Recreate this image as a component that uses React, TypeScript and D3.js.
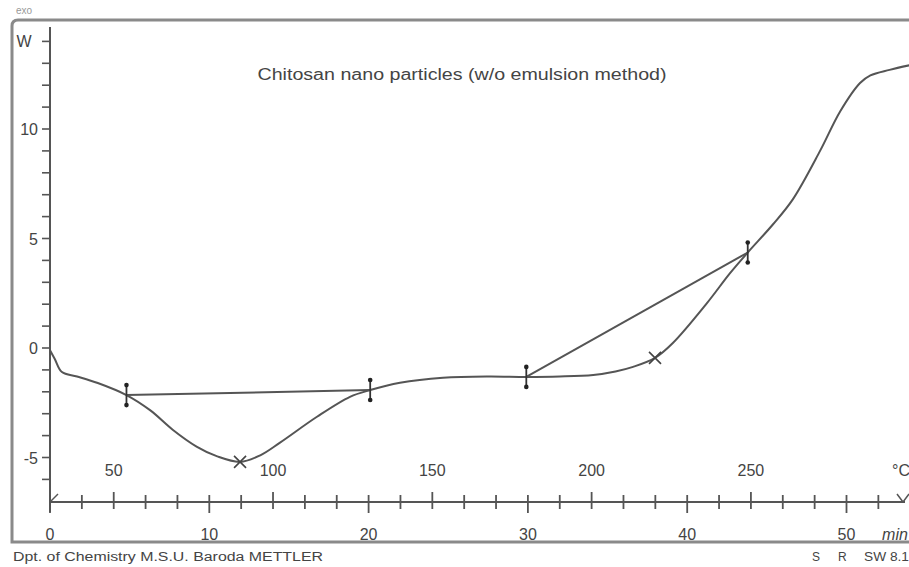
import React from "react";
import * as d3 from "d3";

// ---- data (time in min, heat flow in mW) ----
const timeMin = [0, 0.3, 0.75, 1.7, 3.0, 4.8, 6.3, 7.7, 9.2, 10.5, 11.93, 13.2, 14.44, 16.76, 18.83, 20.1, 21.97, 24.67, 27.5, 29.9, 32.0, 34.1, 35.5, 36.6, 37.98, 39.1, 41.24, 42.69, 43.8, 45.39, 46.64, 48.34, 49.6, 50.85, 51.5, 52.7, 54.2];
const heatFlow = [-0.1, -0.5, -1.1, -1.3, -1.6, -2.15, -2.85, -3.73, -4.5, -4.95, -5.2, -4.9, -4.32, -3.14, -2.23, -1.92, -1.59, -1.36, -1.3, -1.32, -1.3, -1.23, -1.07, -0.86, -0.45, 0.23, 2.05, 3.42, 4.36, 5.65, 6.8, 9.0, 10.8, 12.1, 12.45, 12.7, 12.95];

const limitT = [4.8, 20.1, 29.9, 43.8];
const limitV = [-2.15, -1.92, -1.32, 4.36];
const peakT = [11.93, 37.98];
const peakV = [-5.2, -0.45];

const yTickLabels = [10, 5, 0, -5];
const timeTickLabels = [0, 10, 20, 30, 40, 50];
const tempTickLabels = [50, 100, 150, 200, 250];
const startTemp = 30;
const heatingRate = 5; // °C/min

const title = "Chitosan nano particles (w/o emulsion method)";
const footerLeft = "Dpt. of Chemistry  M.S.U. Baroda  METTLER";
const footerRight = ["S", "R", "SW 8.1"];

export default function App() {
  const W = 909, H = 567;
  const x = d3.scaleLinear().domain([0, 10]).range([50, 209.3]);
  const y = d3.scaleLinear().domain([0, 10]).range([348, 129]);
  const axisY = 502;
  const ink = "#555";
  const frame = "#8a8a8a";
  const font = "Liberation Sans, Arial, sans-serif";

  const line = d3.line<number>()
    .x((_, i) => x(timeMin[i]))
    .y((v) => y(v))
    .curve(d3.curveCatmullRom.alpha(0.5));
  const path = line(heatFlow) || "";

  const yTicks = d3.range(-6, 15, 1);
  const xTicks = d3.range(0, 55, 2);
  const tToT = (T: number) => (T - startTemp) / heatingRate;
  const footerRightX = [812, 838, 864];

  return (
    <svg width={W} height={H} style={{ position: "absolute", left: 0, top: 0, background: "#fff" }} fontFamily={font}>
      <rect x={0} y={0} width={W} height={H} fill="#fff" />
      {/* cut-off label at top */}
      <text x={16} y={14} fontSize={10} fill="#999">exo</text>
      {/* frame */}
      <path d={`M930,20 H18 Q12,20 12,26 V542 H930`} fill="none" stroke={frame} strokeWidth={3} />

      {/* y axis */}
      <line x1={50} x2={50} y1={27} y2={512} stroke={ink} strokeWidth={2} />
      {yTicks.map((v) => (
        <line key={v} x1={42} x2={50} y1={y(v)} y2={y(v)} stroke={ink} strokeWidth={1.6} />
      ))}
      {yTickLabels.map((v) => (
        <text key={v} x={38} y={y(v) + 6} fontSize={16} textAnchor="end" fill="#444">{v}</text>
      ))}
      <text x={24} y={y(14) + 6} fontSize={16} textAnchor="middle" fill="#444">W</text>

      {/* x axis */}
      <line x1={50} x2={905} y1={axisY} y2={axisY} stroke={ink} strokeWidth={2} />
      <path d={`M50,${axisY} L58,${axisY - 8}`} stroke={ink} strokeWidth={1.5} fill="none" />
      <path d={`M897,${axisY - 8} L903,${axisY} M909,${axisY - 8} L903,${axisY}`} stroke={ink} strokeWidth={1.5} fill="none" />
      {xTicks.map((t) => {
        const isTime = t % 10 === 0;
        const isTemp = tempTickLabels.some((T) => Math.abs(tToT(T) - t) < 1e-6);
        return (
          <line key={t} x1={x(t)} x2={x(t)} y1={axisY - (isTemp ? 10 : 7)} y2={axisY + (isTime ? 11 : 7)} stroke={ink} strokeWidth={1.8} />
        );
      })}
      {timeTickLabels.map((t) => (
        <text key={t} x={x(t)} y={540} fontSize={16} textAnchor="middle" fill="#444">{t}</text>
      ))}
      <text x={895} y={540} fontSize={16} textAnchor="middle" fill="#444" fontStyle="italic">min</text>
      {tempTickLabels.map((T) => (
        <text key={T} x={x(tToT(T))} y={476} fontSize={16} textAnchor="middle" fill="#444">{T}</text>
      ))}
      <text x={901} y={476} fontSize={16} textAnchor="middle" fill="#444">°C</text>

      {/* title */}
      <text x={462} y={80} fontSize={16} textAnchor="middle" fill="#444" textLength={409} lengthAdjust="spacingAndGlyphs">{title}</text>

      {/* baselines */}
      {[0, 2].map((i) => (
        <line key={i} x1={x(limitT[i])} y1={y(limitV[i])} x2={x(limitT[i + 1])} y2={y(limitV[i + 1])} stroke={ink} strokeWidth={2} />
      ))}

      {/* curve */}
      <path d={path} fill="none" stroke={ink} strokeWidth={2} />

      {/* integration limit markers */}
      {limitT.map((t, i) => {
        const cx = x(t), cy = y(limitV[i]);
        return (
          <g key={i}>
            <line x1={cx} x2={cx} y1={cy - 11} y2={cy + 11} stroke="#333" strokeWidth={1.8} />
            <circle cx={cx} cy={cy - 10} r={2.3} fill="#222" />
            <circle cx={cx} cy={cy + 10} r={2.3} fill="#222" />
          </g>
        );
      })}

      {/* peak markers */}
      {peakT.map((t, i) => {
        const cx = x(t), cy = y(peakV[i]);
        return (
          <path key={i} d={`M${cx - 6},${cy - 6} L${cx + 6},${cy + 6} M${cx - 6},${cy + 6} L${cx + 6},${cy - 6}`} stroke="#444" strokeWidth={1.6} />
        );
      })}

      {/* footer */}
      <text x={13} y={561} fontSize={12} fill="#444" textLength={310} lengthAdjust="spacingAndGlyphs">{footerLeft}</text>
      {footerRight.map((s, i) => (
        <text key={s} x={footerRightX[i]} y={561} fontSize={12} fill="#444"
          textLength={i === 2 ? 45 : undefined} lengthAdjust="spacingAndGlyphs">{s}</text>
      ))}
    </svg>
  );
}
